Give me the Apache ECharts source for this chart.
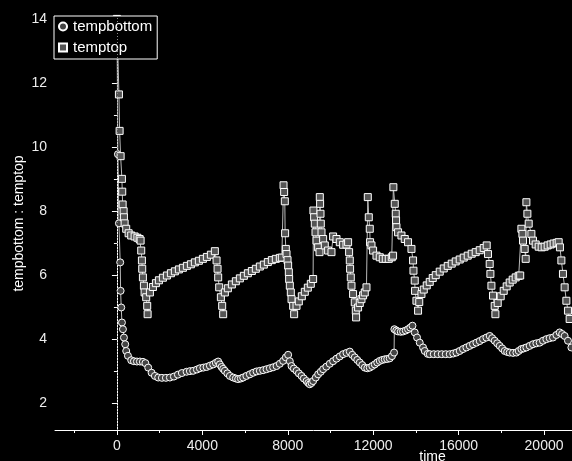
<!DOCTYPE html>
<html><head><meta charset="utf-8">
<script src="https://cdn.jsdelivr.net/npm/echarts@6/dist/echarts.min.js"></script>
<style>html,body{margin:0;padding:0;background:#000}#c{width:572px;height:461px}</style>
</head><body><div id="c"></div>
<script>
const bottomTime=[0,47,94,154,173,201,234,281,328,388,435,515,669,796,936,1076,1217,1334,1465,1624,1778,1933,2106,2293,2480,2668,2855,3042,3262,3416,3571,3744,3884,4048,4198,4352,4507,4633,4741,4820,4900,4975,5054,5171,5288,5443,5569,5677,5803,5911,6061,6224,6379,6538,6692,6847,7006,7160,7315,7474,7628,7783,7909,8017,8096,8176,8284,8410,8518,8644,8752,8878,8962,9032,9112,9187,9313,9421,9547,9656,9805,9968,10123,10282,10436,10591,10750,10904,11021,11138,11255,11372,11489,11606,11723,11840,11957,12074,12191,12308,12425,12542,12659,12776,12879,12978,12992,13081,13165,13291,13399,13525,13632,13736,13839,13946,14054,14180,14335,14414,14555,14648,14836,15023,15210,15397,15584,15748,15898,16052,16207,16366,16520,16674,16834,16988,17143,17302,17456,17573,17690,17807,17924,18041,18158,18275,18392,18547,18706,18814,18940,19048,19174,19328,19483,19642,19796,19951,20110,20264,20419,20578,20732,20849,20966,21121,21280];
const bottomTemp=[14.0,9.77,7.61,6.39,5.5,4.98,4.51,4.3,4.04,3.83,3.62,3.47,3.33,3.3,3.29,3.29,3.28,3.24,3.1,2.94,2.84,2.79,2.78,2.78,2.79,2.82,2.88,2.93,2.97,2.99,3.0,3.04,3.08,3.1,3.12,3.16,3.2,3.25,3.29,3.2,3.12,3.06,3.0,2.92,2.84,2.79,2.76,2.74,2.76,2.79,2.84,2.89,2.94,2.98,3.0,3.02,3.05,3.08,3.11,3.15,3.22,3.31,3.42,3.5,3.3,3.15,3.07,3.0,2.92,2.84,2.76,2.68,2.62,2.58,2.62,2.68,2.79,2.89,2.97,3.05,3.13,3.22,3.3,3.38,3.45,3.52,3.56,3.6,3.5,3.42,3.34,3.26,3.18,3.1,3.08,3.1,3.15,3.2,3.26,3.31,3.34,3.36,3.37,3.39,3.46,3.57,4.3,4.26,4.23,4.22,4.23,4.26,4.3,4.35,4.41,4.2,4.04,3.88,3.73,3.62,3.53,3.52,3.52,3.52,3.52,3.52,3.52,3.54,3.57,3.62,3.68,3.73,3.78,3.83,3.88,3.93,3.99,4.04,4.09,4.02,3.94,3.86,3.78,3.7,3.62,3.59,3.57,3.56,3.57,3.62,3.68,3.7,3.73,3.78,3.83,3.86,3.88,3.94,3.99,4.02,4.04,4.12,4.2,4.15,4.09,3.94,3.73];
const topTime=[0,94,126,173,234,248,267,314,328,360,435,548,669,828,959,1062,1109,1137,1170,1184,1217,1264,1296,1371,1418,1437,1544,1685,1825,1966,2153,2340,2527,2714,2902,3089,3276,3463,3650,3838,4025,4212,4399,4586,4666,4713,4741,4788,4867,4928,4975,5054,5195,5382,5569,5756,5944,6131,6318,6505,6692,6880,7067,7254,7441,7628,7722,7802,7830,7862,7876,7909,7942,7989,8017,8050,8064,8096,8143,8176,8251,8298,8410,8518,8658,8798,8939,9079,9187,9201,9234,9266,9299,9346,9421,9487,9500,9514,9533,9547,9580,9656,9734,9889,10047,10123,10282,10436,10591,10750,10825,10872,10904,10918,10951,10984,11059,11138,11185,11199,11293,11372,11452,11527,11606,11686,11747,11794,11840,11854,11920,11995,12154,12308,12449,12589,12730,12870,12931,12945,13010,13057,13071,13090,13165,13324,13478,13632,13792,13867,13886,13946,13960,14026,14101,14157,14260,14368,14508,14648,14789,14929,15116,15304,15491,15678,15865,16052,16240,16427,16614,16801,16988,17176,17316,17376,17456,17489,17536,17611,17690,17723,17831,17971,18112,18252,18392,18533,18673,18814,18884,18940,18987,19015,19094,19141,19174,19221,19282,19408,19483,19609,19750,19890,20030,20171,20311,20451,20592,20686,20746,20812,20887,20966,21046,21121,21200];
const topTemp=[14.0,11.64,10.5,9.71,9.0,8.6,8.2,7.99,7.8,7.61,7.44,7.3,7.23,7.2,7.16,7.12,7.07,6.76,6.45,6.19,5.92,5.66,5.45,5.3,5.03,4.77,5.45,5.62,5.74,5.83,5.91,5.98,6.05,6.11,6.17,6.22,6.28,6.33,6.39,6.44,6.5,6.56,6.63,6.74,6.45,6.19,5.92,5.61,5.3,5.03,4.77,5.45,5.58,5.7,5.8,5.89,5.97,6.05,6.12,6.19,6.26,6.32,6.4,6.46,6.5,6.53,6.54,8.8,8.59,8.3,7.3,6.81,6.65,6.46,6.29,6.08,5.87,5.66,5.45,5.24,5.03,4.77,5.03,5.17,5.33,5.47,5.6,5.72,5.87,8.01,7.8,7.6,7.33,7.07,6.86,6.71,8.43,8.22,7.91,7.6,7.33,7.12,6.92,6.76,6.71,7.2,7.12,7.02,6.94,6.95,7.02,6.71,6.45,6.19,5.92,5.66,5.4,5.14,4.88,4.67,4.98,5.12,5.24,5.36,5.45,5.61,8.43,7.8,7.44,7.02,6.92,6.76,6.6,6.55,6.5,6.5,6.5,6.55,6.6,8.74,8.22,7.91,7.7,7.49,7.33,7.23,7.12,7.02,6.81,6.45,6.13,5.82,5.5,5.19,4.88,5.15,5.4,5.54,5.67,5.78,5.9,5.99,6.1,6.2,6.28,6.35,6.42,6.48,6.54,6.6,6.66,6.71,6.77,6.84,6.92,6.65,6.34,6.03,5.66,5.35,5.03,4.77,5.12,5.33,5.5,5.64,5.76,5.85,5.92,5.97,5.98,7.44,7.28,7.07,6.81,6.5,8.27,7.91,7.6,7.28,7.07,6.95,6.88,6.86,6.88,6.92,6.95,6.98,7.0,7.02,6.86,6.45,6.03,5.61,5.19,4.88,4.62];
const xLabels=[0,4000,8000,12000,16000,20000];
const xMinor=[-2000,2000,6000,10000,14000,18000];
const yLabels=[2,4,6,8,10,12,14];
const yMinor=[3,5,7,9,11,13];

const FONT='"Liberation Sans", Arial, sans-serif';
const zip=(a,b)=>a.map((t,i)=>[t,b[i]]);
const X0=-2900, X1=21310, Y0=1.15, Y1=14.06;
const plain=v=>String(v);

const chart=echarts.init(document.getElementById('c'),null,{renderer:'canvas'});
chart.setOption({
  backgroundColor:'#000',
  animation:false,
  grid:{left:55,right:0,top:17,bottom:31,containLabel:false,outerBoundsMode:'none'},
  legend:{
    left:54,top:16,orient:'vertical',
    padding:[3,5,4,3],itemGap:6,itemWidth:10,itemHeight:10,
    borderColor:'#fff',borderWidth:1,backgroundColor:'#000',
    textStyle:{color:'#fff',fontSize:15,fontFamily:FONT,lineHeight:14},
    data:['tempbottom','temptop']
  },
  xAxis:[{
    type:'value',min:X0,max:X1,
    name:'time',nameLocation:'middle',nameGap:20,nameMoveOverlap:false,
    nameTextStyle:{color:'#fff',fontSize:14,fontFamily:FONT,padding:[0,0,0,238]},
    axisLine:{lineStyle:{color:'#fff',width:1}},
    axisTick:{customValues:xLabels,length:5,lineStyle:{color:'#fff'}},
    axisLabel:{customValues:xLabels,formatter:plain,color:'#eee',fontSize:14,fontFamily:FONT,margin:9},
    splitLine:{show:false}
  },{
    type:'value',min:X0,max:X1,position:'bottom',offset:0,
    axisLine:{show:false},
    axisTick:{customValues:xMinor,length:3,lineStyle:{color:'#fff'}},
    axisLabel:{show:false},splitLine:{show:false}
  }],
  yAxis:[{
    type:'value',min:Y0,max:Y1,
    name:'tempbottom : temptop',nameLocation:'middle',nameGap:29,nameMoveOverlap:false,
    nameTextStyle:{color:'#fff',fontSize:14,fontFamily:FONT},
    axisLine:{lineStyle:{color:'#fff',width:1}},
    axisTick:{customValues:yLabels,length:5,lineStyle:{color:'#fff'}},
    axisLabel:{customValues:yLabels,formatter:plain,color:'#eee',fontSize:14,fontFamily:FONT,margin:8},
    splitLine:{show:false}
  },{
    type:'value',min:Y0,max:Y1,position:'left',offset:0,
    axisLine:{show:false},
    axisTick:{customValues:yMinor,length:3,lineStyle:{color:'#fff'}},
    axisLabel:{show:false},splitLine:{show:false}
  }],
  series:[{
    name:'tempbottom',type:'line',xAxisIndex:0,yAxisIndex:0,
    data:zip(bottomTime,bottomTemp),
    symbol:'circle',symbolSize:7,showSymbol:true,showAllSymbol:true,
    lineStyle:{color:'#bbb',width:1},
    itemStyle:{color:'#444',borderColor:'#fff',borderWidth:1},
    markLine:{silent:true,symbol:['none','none'],label:{show:false},
      lineStyle:{color:'#888',type:[1,2],width:1},data:[{xAxis:0}]},
    z:2
  },{
    name:'temptop',type:'line',xAxisIndex:0,yAxisIndex:0,
    data:zip(topTime,topTemp),
    symbol:'rect',symbolSize:7,showSymbol:true,showAllSymbol:true,
    lineStyle:{color:'#bbb',width:1},
    itemStyle:{color:'#555',borderColor:'#fff',borderWidth:1},
    z:3
  }]
});
</script></body></html>
